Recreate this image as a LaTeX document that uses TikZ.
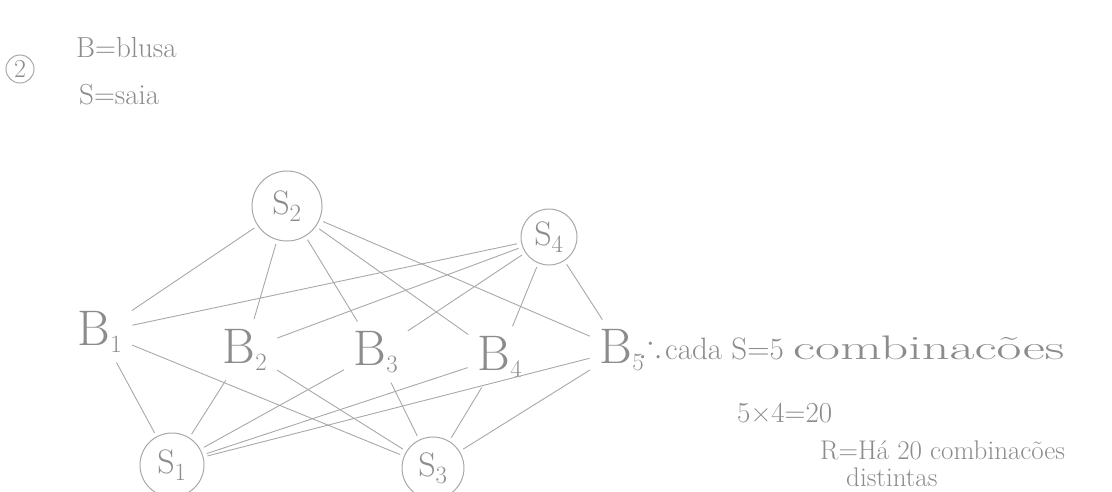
\documentclass[tikz,border=0pt]{standalone}
\usepackage{amssymb}
\usepackage{graphicx}
\definecolor{pencil}{RGB}{168,168,168}
\definecolor{pencilink}{RGB}{140,140,140}
\tikzset{
  edge/.style={draw=pencil, line width=0.9pt, shorten <=4pt, shorten >=4pt},
  snode/.style={circle, draw=pencil, line width=1pt, text=pencilink,
                font=\fontsize{34}{34}\selectfont, inner sep=0pt},
  bnode/.style={text=pencilink, font=\fontsize{50}{50}\selectfont, inner sep=6pt},
  note/.style={text=pencilink, anchor=west, inner sep=0pt,
               font=\fontsize{31}{31}\selectfont},
  smallnote/.style={note, font=\fontsize{27}{27}\selectfont},
}
\begin{document}
\begin{tikzpicture}[x=1pt, y=-1pt]
\useasboundingbox (0,0) rectangle (1112,491);

% heading
\node[circle, draw=pencil, line width=1pt, minimum size=28pt, inner sep=0pt,
      text=pencilink, font=\fontsize{26}{26}\selectfont] (num) at (20,69) {2};
\node[smallnote, font=\fontsize{29}{29}\selectfont] (lblB) at (76,48) {B=blusa};
\node[smallnote, font=\fontsize{29}{29}\selectfont] (lblS) at (79,95) {S=saia};

% skirts
\node[snode, minimum size=70pt] (S2) at (287,206) {S$_2$};
\node[snode, minimum size=56pt] (S4) at (549,237) {S$_4$};
\node[snode, minimum size=64pt] (S1) at (172,465) {S$_1$};
\node[snode, minimum size=62pt] (S3) at (433,468) {S$_3$};

% blouses
\node[bnode] (B1) at (100,332) {B$_1$};
\node[bnode] (B2) at (245,350) {B$_2$};
\node[bnode] (B3) at (376,352) {B$_3$};
\node[bnode] (B4) at (500,357) {B$_4$};
\node[bnode] (B5) at (622,350) {B$_5$};

% every skirt with every blouse
\foreach \s in {S1,S2,S3,S4}{
  \foreach \b in {B1,B2,B3,B4,B5}{
    \draw[edge] (\s) -- (\b);
  }
}

% counting
\node[note] (tf) at (640,346) {$\therefore$};
\node[note] (c1) at (665,348) {cada S=5 \scalebox{1.75}[1.1]{combinacões}};
\node[smallnote, font=\fontsize{29}{29}\selectfont] (c2) at (737,413) {5×4=20};
\node[smallnote] (c3) at (820,450) {R=Há 20 combinacões};
\node[smallnote] (c4) at (846,477) {distintas};
\end{tikzpicture}
\end{document}
